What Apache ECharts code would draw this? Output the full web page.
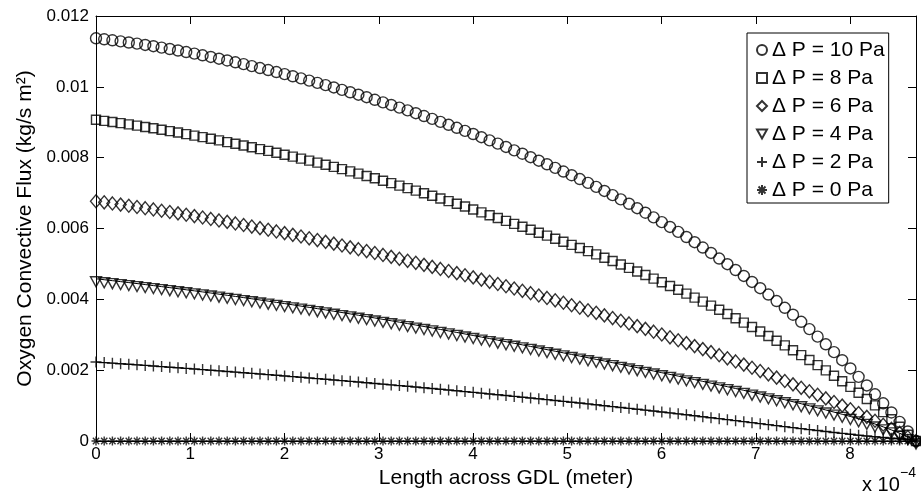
<!DOCTYPE html>
<html>
<head>
<meta charset="utf-8">
<title>Oxygen convective flux across GDL</title>
<script src="https://cdn.jsdelivr.net/npm/echarts@6/dist/echarts.min.js"></script>
<style>
  html, body { margin: 0; padding: 0; background: #fff; }
  #chart { width: 921px; height: 497px; }
</style>
</head>
<body>
<div id="chart"></div>
<script>
// x is in units of 1e-4 m, flux in units of 1e-3 kg/(s m^2)
const xStep = 0.087; // 101 samples across the GDL, 0 .. 8.7

const seriesNames = ['Δ P = 10 Pa', 'Δ P = 8 Pa', 'Δ P = 6 Pa', 'Δ P = 4 Pa', 'Δ P = 2 Pa', 'Δ P = 0 Pa'];

const flux10 = [
  11.370, 11.343, 11.315, 11.284, 11.252, 11.219, 11.183, 11.147, 11.108, 11.068,
  11.026, 10.982, 10.937, 10.891, 10.843, 10.794, 10.744, 10.693, 10.640, 10.586,
  10.531, 10.475, 10.418, 10.359, 10.299, 10.239, 10.176, 10.113, 10.048, 9.983,
  9.915, 9.847, 9.778, 9.707, 9.635, 9.562, 9.488, 9.412, 9.335, 9.256,
  9.176, 9.095, 9.012, 8.928, 8.843, 8.756, 8.668, 8.578, 8.488, 8.396,
  8.302, 8.207, 8.111, 8.013, 7.914, 7.814, 7.712, 7.609, 7.504, 7.397,
  7.288, 7.175, 7.060, 6.942, 6.822, 6.699, 6.573, 6.445, 6.314, 6.180,
  6.044, 5.904, 5.760, 5.613, 5.463, 5.309, 5.152, 4.992, 4.828, 4.660,
  4.490, 4.315, 4.136, 3.951, 3.761, 3.565, 3.365, 3.159, 2.947, 2.731,
  2.509, 2.282, 2.049, 1.811, 1.568, 1.319, 1.065, 0.805, 0.540, 0.270,
  0
];

const flux8 = [
  9.070, 9.039, 9.007, 8.974, 8.939, 8.904, 8.867, 8.829, 8.790, 8.750,
  8.709, 8.666, 8.623, 8.579, 8.533, 8.487, 8.440, 8.392, 8.343, 8.293,
  8.242, 8.191, 8.138, 8.084, 8.030, 7.974, 7.917, 7.859, 7.800, 7.739,
  7.677, 7.614, 7.550, 7.484, 7.418, 7.350, 7.281, 7.211, 7.141, 7.069,
  6.997, 6.923, 6.849, 6.774, 6.698, 6.621, 6.538, 6.455, 6.375, 6.295,
  6.214, 6.132, 6.050, 5.966, 5.882, 5.798, 5.712, 5.626, 5.539, 5.450,
  5.360, 5.269, 5.176, 5.081, 4.985, 4.887, 4.788, 4.687, 4.585, 4.481,
  4.376, 4.269, 4.160, 4.048, 3.935, 3.821, 3.704, 3.585, 3.465, 3.342,
  3.218, 3.092, 2.963, 2.832, 2.699, 2.564, 2.426, 2.286, 2.142, 1.994,
  1.843, 1.687, 1.528, 1.362, 1.188, 1.005, 0.814, 0.614, 0.402, 0.177,
  0
];

const flux6 = [
  6.770, 6.739, 6.708, 6.675, 6.642, 6.608, 6.574, 6.538, 6.502, 6.465,
  6.428, 6.389, 6.350, 6.310, 6.270, 6.228, 6.186, 6.143, 6.099, 6.055,
  6.010, 5.964, 5.917, 5.869, 5.821, 5.773, 5.723, 5.673, 5.623, 5.572,
  5.521, 5.468, 5.416, 5.363, 5.309, 5.254, 5.199, 5.144, 5.088, 5.031,
  4.974, 4.916, 4.858, 4.799, 4.739, 4.679, 4.619, 4.557, 4.495, 4.432,
  4.369, 4.305, 4.240, 4.174, 4.107, 4.040, 3.972, 3.903, 3.833, 3.763,
  3.691, 3.619, 3.546, 3.471, 3.396, 3.320, 3.243, 3.166, 3.087, 3.007,
  2.927, 2.845, 2.763, 2.679, 2.595, 2.509, 2.423, 2.335, 2.247, 2.157,
  2.067, 1.975, 1.883, 1.789, 1.695, 1.599, 1.502, 1.403, 1.304, 1.203,
  1.102, 0.999, 0.895, 0.790, 0.682, 0.572, 0.460, 0.346, 0.229, 0.111,
  0
];

const flux4 = [
  4.580, 4.554, 4.527, 4.500, 4.473, 4.445, 4.417, 4.388, 4.359, 4.330,
  4.300, 4.270, 4.240, 4.209, 4.178, 4.146, 4.114, 4.082, 4.049, 4.016,
  3.982, 3.949, 3.914, 3.880, 3.845, 3.809, 3.774, 3.737, 3.701, 3.664,
  3.627, 3.589, 3.551, 3.513, 3.474, 3.435, 3.395, 3.355, 3.315, 3.274,
  3.233, 3.192, 3.150, 3.108, 3.065, 3.022, 2.979, 2.935, 2.892, 2.848,
  2.804, 2.759, 2.715, 2.670, 2.625, 2.580, 2.535, 2.489, 2.443, 2.398,
  2.351, 2.305, 2.259, 2.212, 2.165, 2.118, 2.071, 2.024, 1.976, 1.928,
  1.880, 1.832, 1.783, 1.734, 1.684, 1.634, 1.584, 1.533, 1.482, 1.431,
  1.379, 1.327, 1.274, 1.220, 1.165, 1.109, 1.052, 0.994, 0.936, 0.876,
  0.816, 0.754, 0.692, 0.627, 0.556, 0.480, 0.399, 0.313, 0.221, 0.125,
  0
];

const flux2 = [
  2.230, 2.214, 2.198, 2.182, 2.166, 2.150, 2.134, 2.117, 2.101, 2.084,
  2.067, 2.050, 2.033, 2.016, 1.999, 1.981, 1.963, 1.946, 1.928, 1.910,
  1.892, 1.873, 1.855, 1.837, 1.818, 1.799, 1.780, 1.761, 1.742, 1.723,
  1.704, 1.684, 1.665, 1.645, 1.625, 1.605, 1.584, 1.564, 1.544, 1.523,
  1.502, 1.481, 1.460, 1.438, 1.417, 1.395, 1.373, 1.351, 1.328, 1.306,
  1.283, 1.260, 1.237, 1.214, 1.191, 1.167, 1.143, 1.120, 1.095, 1.071,
  1.047, 1.022, 0.997, 0.972, 0.947, 0.922, 0.896, 0.871, 0.845, 0.819,
  0.793, 0.766, 0.740, 0.713, 0.686, 0.658, 0.631, 0.603, 0.575, 0.547,
  0.518, 0.490, 0.461, 0.433, 0.405, 0.377, 0.349, 0.322, 0.295, 0.268,
  0.241, 0.215, 0.189, 0.164, 0.140, 0.118, 0.098, 0.079, 0.062, 0.046,
  0
];

const flux0 = [
  0, 0, 0, 0, 0, 0, 0, 0, 0, 0,
  0, 0, 0, 0, 0, 0, 0, 0, 0, 0,
  0, 0, 0, 0, 0, 0, 0, 0, 0, 0,
  0, 0, 0, 0, 0, 0, 0, 0, 0, 0,
  0, 0, 0, 0, 0, 0, 0, 0, 0, 0,
  0, 0, 0, 0, 0, 0, 0, 0, 0, 0,
  0, 0, 0, 0, 0, 0, 0, 0, 0, 0,
  0, 0, 0, 0, 0, 0, 0, 0, 0, 0,
  0, 0, 0, 0, 0, 0, 0, 0, 0, 0,
  0, 0, 0, 0, 0, 0, 0, 0, 0, 0,
  0
];

const font = '"Liberation Sans", Arial, Helvetica, sans-serif';
const xs = flux10.map((_, i) => +(i * xStep).toFixed(3));
const pairs = arr => arr.map((v, i) => [xs[i], v]);

const hollow = { color: 'rgba(0,0,0,0)', borderColor: '#000', borderWidth: 1.4 };
const plusPath = 'path://M5 0L5 10M0 5L10 5';
const starPath = 'path://M5 0L5 10M0 5L10 5M1.5 1.5L8.5 8.5M1.5 8.5L8.5 1.5';
const downTriangle = 'path://M0 0L10 0L5 9Z';

function markers(name, values, symbol, size, extra) {
  return Object.assign({
    name: name,
    type: 'scatter',
    data: pairs(values),
    symbol: symbol,
    symbolSize: size,
    itemStyle: hollow,
    clip: false,
    silent: true,
    z: 3
  }, extra || {});
}

function plainLine(values) {
  return {
    type: 'line',
    data: pairs(values),
    symbol: 'none',
    showSymbol: false,
    lineStyle: { color: '#000', width: 1 },
    silent: true,
    z: 2
  };
}

const axisLine = { show: true, onZero: false, lineStyle: { color: '#000', width: 1 } };
const axisTick = { show: true, inside: true, length: 8, lineStyle: { color: '#000', width: 1 } };
const tickStyle = { color: '#000', fontSize: 17, fontFamily: font };

const chart = echarts.init(document.getElementById('chart'), null, { renderer: 'canvas' });

chart.setOption({
  animation: false,
  backgroundColor: '#fff',
  grid: { left: 96, right: 5, top: 16, bottom: 56, containLabel: false, outerBoundsMode: 'none' },
  legend: {
    data: seriesNames,
    orient: 'vertical',
    left: 747,
    top: 33,
    itemWidth: 10,
    itemHeight: 10,
    itemGap: 6,
    padding: [6, 4, 2, 9],
    borderColor: '#000',
    borderWidth: 1,
    backgroundColor: '#fff',
    selectedMode: false,
    textStyle: { color: '#000', fontSize: 21, fontFamily: font, lineHeight: 22 }
  },
  xAxis: [
    {
      type: 'value', min: 0, max: 8.7, interval: 1, position: 'bottom',
      axisLine: axisLine, axisTick: axisTick, splitLine: { show: false },
      axisLabel: Object.assign({ margin: 5, formatter: v => Number.isInteger(v) ? String(v) : '' }, tickStyle),
      name: 'Length across GDL (meter)', nameLocation: 'middle', nameGap: 17,
      nameTextStyle: { color: '#000', fontSize: 21, fontFamily: font }
    },
    {
      type: 'value', min: 0, max: 8.7, interval: 1, position: 'top',
      axisLine: axisLine, axisTick: axisTick, splitLine: { show: false },
      axisLabel: { show: false }
    }
  ],
  yAxis: [
    {
      type: 'value', min: 0, max: 12, interval: 2, position: 'left',
      axisLine: axisLine, axisTick: axisTick, splitLine: { show: false },
      axisLabel: Object.assign({ margin: 7, formatter: v => String(v / 1000) }, tickStyle),
      name: 'Oxygen Convective Flux (kg/s m²)', nameLocation: 'middle', nameGap: 58,
      nameTextStyle: { color: '#000', fontSize: 21, fontFamily: font }
    },
    {
      type: 'value', min: 0, max: 12, interval: 2, position: 'right',
      axisLine: axisLine, axisTick: axisTick, splitLine: { show: false },
      axisLabel: { show: false }
    }
  ],
  graphic: [
    { type: 'text', left: 862, top: 475, style: { text: 'x 10', font: '20px ' + font, fill: '#000' } },
    { type: 'text', left: 900, top: 466, style: { text: '−4', font: '14px ' + font, fill: '#000' } }
  ],
  series: [
    plainLine(flux4),
    plainLine(flux2),
    markers(seriesNames[0], flux10, 'circle', 11),
    markers(seriesNames[1], flux8, 'rect', 9),
    markers(seriesNames[2], flux6, 'diamond', [11, 13]),
    markers(seriesNames[3], flux4, downTriangle, [11, 10], { symbolOffset: [0, 3] }),
    markers(seriesNames[4], flux2, plusPath, 11),
    markers(seriesNames[5], flux0, starPath, 9)
  ]
});
</script>
</body>
</html>
